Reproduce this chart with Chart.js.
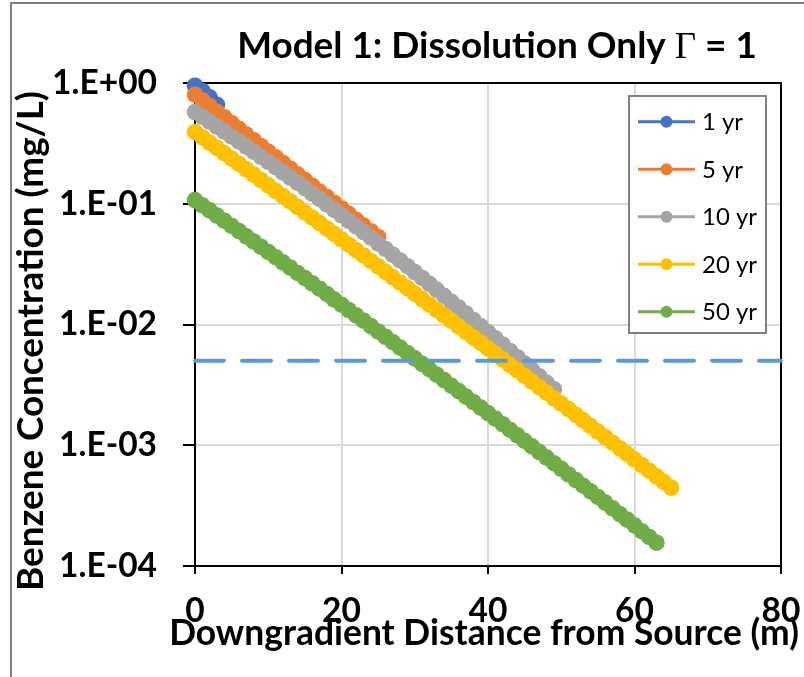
<!DOCTYPE html>
<html><head><meta charset="utf-8">
<script src="https://cdn.jsdelivr.net/npm/chart.js@4.4.0/dist/chart.umd.min.js"></script>
<style>html,body{margin:0;padding:0;background:#fff;} canvas{display:block;}</style>
</head><body><canvas id="c" width="804" height="677"></canvas>
<script>
// ---------------- DATA ----------------
const seriesNames = ['1 yr', '5 yr', '10 yr', '20 yr', '50 yr'];

const dist1yr = [0, 1, 2, 3];
const conc1yr = [0.95, 0.86, 0.76, 0.66];

const dist5yr = [0,1,2,3,4,5,6,7,8,9,10,11,12,13,14,15,16,17,18,19,20,21,22,23,24,25];
const conc5yr = [0.80,0.718,0.644,0.578,0.519,0.465,0.417,0.374,0.336,0.301,0.270,0.243,0.218,0.195,0.175,0.157,0.141,0.126,0.1135,0.102,0.0914,0.082,0.0736,0.066,0.0592,0.0531];

const dist10yr = [0,1,2,3,4,5,6,7,8,9,10,11,12,13,14,15,16,17,18,19,20,21,22,23,24,25,26,27,28,29,30,31,32,33,34,35,36,37,38,39,40,41,42,43,44,45,46,47,48,49];
const conc10yr = [0.575,0.5248,0.4779,0.4352,0.3961,0.3601,0.3273,0.2972,0.2698,0.2447,0.2218,0.2010,0.1819,0.1646,0.1488,0.1344,0.1214,0.1095,0.0988,0.0890,0.0802,0.0722,0.0649,0.0583,0.0524,0.0470,0.0422,0.0378,0.0339,0.0304,0.0272,0.0243,0.0217,0.0194,0.0173,0.0154,0.0138,0.0123,0.0109,0.0097,0.00863,0.00767,0.00681,0.00604,0.00536,0.00475,0.00421,0.00372,0.00329,0.00291];

const dist20yr = [0,1,2,3,4,5,6,7,8,9,10,11,12,13,14,15,16,17,18,19,20,21,22,23,24,25,26,27,28,29,30,31,32,33,34,35,36,37,38,39,40,41,42,43,44,45,46,47,48,49,50,51,52,53,54,55,56,57,58,59,60,61,62,63,64,65];
const conc20yr = [0.3926,0.3548,0.3206,0.2896,0.2617,0.2363,0.2135,0.1928,0.1741,0.1572,0.1419,0.1281,0.1156,0.1044,0.0942,0.0850,0.0767,0.0692,0.0624,0.0563,0.0508,0.0458,0.0413,0.0373,0.0336,0.0303,0.0273,0.0246,0.0222,0.0200,0.01803,0.01625,0.01464,0.01319,0.01188,0.01070,0.00964,0.00868,0.00782,0.00704,0.00634,0.00571,0.00514,0.00462,0.00416,0.00375,0.00337,0.00303,0.00273,0.00245,0.00221,0.00199,0.001786,0.001606,0.001444,0.001299,0.001168,0.001050,0.000943,0.000848,0.000762,0.000685,0.000615,0.000553,0.000497,0.000446];

const dist50yr = [0,1,2,3,4,5,6,7,8,9,10,11,12,13,14,15,16,17,18,19,20,21,22,23,24,25,26,27,28,29,30,31,32,33,34,35,36,37,38,39,40,41,42,43,44,45,46,47,48,49,50,51,52,53,54,55,56,57,58,59,60,61,62,63];
const conc50yr = [0.1072,0.0971,0.0881,0.0798,0.0724,0.0655,0.0594,0.0538,0.0487,0.0441,0.0399,0.0361,0.0327,0.0296,0.0267,0.0242,0.0219,0.0198,0.0179,0.0161,0.01459,0.01318,0.01190,0.01075,0.00970,0.00876,0.00791,0.00713,0.00644,0.00580,0.00524,0.00472,0.00426,0.00384,0.00346,0.00311,0.00281,0.00253,0.00228,0.00205,0.001845,0.00166,0.001494,0.001344,0.001209,0.001088,0.000978,0.000879,0.000790,0.000710,0.000638,0.000573,0.000515,0.000462,0.000415,0.000373,0.000335,0.000300,0.000269,0.000242,0.000217,0.000194,0.000174,0.000156];

const mclValue = 0.005;
const mclDistRange = [0, 80];

const xTickValues = [0, 20, 40, 60, 80];
const yTickValues = [1e-4, 1e-3, 1e-2, 1e-1, 1];
const yTickLabels = ['1.E-04', '1.E-03', '1.E-02', '1.E-01', '1.E+00'];

const chartTitle = ['Model 1: Dissolution Only ', '\u0393', ' = 1'];
const xAxisTitle = 'Downgradient Distance from Source (m)';
const yAxisTitle = 'Benzene Concentration (mg/L)';

// ---------------- STYLE ----------------
const seriesColors = ['#4472c4', '#ed7d31', '#a5a5a5', '#ffc000', '#70ad47'];
const mclColor = '#5b9bd5';
const FONT = 'Lato, "Open Sans", sans-serif';
const GFONT = '"Liberation Serif", "DejaVu Serif", serif';

const mctx = document.createElement('canvas').getContext('2d');
function fitSize(text, weight, family, target) {
  mctx.font = weight + ' 100px ' + family;
  return 100 * target / mctx.measureText(text).width;
}
const tickSize = fitSize('1.E+00', 'bold', FONT, 105);
const xTitleSize = fitSize(xAxisTitle, 'bold', FONT, 630);
const yTitleSize = fitSize(yAxisTitle, 'bold', FONT, 500);
const legendSize = fitSize('10 yr', 'normal', FONT, 55);
const titleSize = (function () {
  let w = 0;
  mctx.font = 'bold 100px ' + FONT; w += mctx.measureText(chartTitle[0]).width + mctx.measureText(chartTitle[2]).width;
  mctx.font = '100px ' + GFONT; w += mctx.measureText(chartTitle[1]).width;
  return 100 * 520 / w;
})();

const pairs = (xs, ys) => xs.map((x, i) => ({x: x, y: ys[i]}));
const seriesDists = [dist1yr, dist5yr, dist10yr, dist20yr, dist50yr];
const seriesConcs = [conc1yr, conc5yr, conc10yr, conc20yr, conc50yr];

const datasets = seriesNames.map((name, i) => ({
  label: name,
  data: pairs(seriesDists[i], seriesConcs[i]),
  showLine: true,
  borderColor: seriesColors[i],
  backgroundColor: seriesColors[i],
  borderWidth: 3,
  pointRadius: 8.3,
  pointHoverRadius: 8.3,
  pointBorderWidth: 0,
  clip: false,
  order: 10 - i
}));
datasets.push({
  label: 'MCL',
  data: mclDistRange.map(x => ({x: x, y: mclValue})),
  showLine: true,
  borderColor: mclColor,
  backgroundColor: mclColor,
  borderWidth: 4,
  borderDash: [29, 18],
  borderCapStyle: 'round',
  pointRadius: 0,
  clip: false,
  order: 0
});

const decor = {
  id: 'decor',
  beforeDraw(chart) {
    const c = chart.ctx;
    c.save(); c.fillStyle = '#fff'; c.fillRect(0, 0, chart.width, chart.height); c.restore();
  },
  beforeDatasetsDraw(chart) {
    const c = chart.ctx, a = chart.chartArea;
    c.save();
    c.strokeStyle = '#000'; c.lineWidth = 2;
    c.beginPath();
    c.moveTo(a.left - 1, a.top); c.lineTo(a.right, a.top); c.lineTo(a.right, a.bottom + 1);
    c.stroke();
    c.restore();
  },
  afterDraw(chart) {
    const c = chart.ctx;
    c.save();
    // outer frame
    c.strokeStyle = '#7f7f7f'; c.lineWidth = 2;
    c.beginPath(); c.moveTo(11, chart.height); c.lineTo(11, 3); c.lineTo(chart.width, 3); c.stroke();
    // chart title (Gamma in a serif face)
    const tFont = 'bold ' + titleSize + 'px ' + FONT, gFont = titleSize + 'px ' + GFONT;
    const fonts = [tFont, gFont, tFont];
    const widths = chartTitle.map((t, i) => { c.font = fonts[i]; return c.measureText(t).width; });
    const total = widths.reduce((s, w) => s + w, 0);
    let x = 497 - total / 2;
    c.fillStyle = '#000'; c.textBaseline = 'alphabetic'; c.textAlign = 'left';
    chartTitle.forEach((t, i) => { c.font = fonts[i]; c.fillText(t, x, 58); x += widths[i]; });
    // axis titles
    c.textAlign = 'center'; c.textBaseline = 'middle';
    c.font = 'bold ' + xTitleSize + 'px ' + FONT;
    c.fillText(xAxisTitle, 484, 634);
    c.save();
    c.translate(31, 341); c.rotate(-Math.PI / 2);
    c.font = 'bold ' + yTitleSize + 'px ' + FONT;
    c.fillText(yAxisTitle, 0, 0);
    c.restore();
    // legend
    const L = 629, T = 96, W = 137, H = 237;
    c.fillStyle = '#fff'; c.fillRect(L, T, W, H);
    c.strokeStyle = '#808080'; c.lineWidth = 2; c.strokeRect(L, T, W, H);
    c.font = legendSize + 'px ' + FONT; c.textBaseline = 'middle'; c.textAlign = 'left';
    seriesNames.forEach((name, i) => {
      const y = 121.7 + 47.5 * i;
      c.strokeStyle = seriesColors[i]; c.lineWidth = 3;
      c.beginPath(); c.moveTo(638, y); c.lineTo(695, y); c.stroke();
      c.fillStyle = seriesColors[i];
      c.beginPath(); c.arc(666.5, y, 6, 0, Math.PI * 2); c.fill();
      c.fillStyle = '#000'; c.fillText(name, 702, y + 1);
    });
    c.restore();
  }
};

new Chart(document.getElementById('c'), {
  type: 'scatter',
  data: {datasets: datasets},
  plugins: [decor],
  options: {
    responsive: false,
    animation: false,
    events: [],
    layout: {autoPadding: false, padding: {left: 0, right: 23, top: 83, bottom: 0}},
    plugins: {legend: {display: false}, title: {display: false}, tooltip: {enabled: false}},
    scales: {
      x: {
        type: 'linear', min: 0, max: 80, position: 'bottom',
        afterBuildTicks: s => { s.ticks = xTickValues.map(v => ({value: v})); },
        ticks: {font: {family: FONT, weight: 'bold', size: tickSize}, color: '#000', padding: 17, maxRotation: 0, autoSkip: false},
        grid: {color: '#d9d9d9', lineWidth: 2, tickColor: '#000', tickLength: 8, tickWidth: 2},
        border: {color: '#000', width: 2},
        title: {display: false, text: xAxisTitle},
        afterFit: s => { s.height = 111; s.paddingLeft = 0; s.paddingRight = 0; }
      },
      y: {
        type: 'logarithmic', min: 1e-4, max: 1, position: 'left',
        afterBuildTicks: s => { s.ticks = yTickValues.map(v => ({value: v})); },
        ticks: {font: {family: FONT, weight: 'bold', size: tickSize}, color: '#000', padding: 26, autoSkip: false,
                callback: (v, i) => yTickLabels[i]},
        grid: {color: '#d9d9d9', lineWidth: 2, tickColor: '#000', tickLength: 12, tickWidth: 2},
        border: {color: '#000', width: 2},
        title: {display: false, text: yAxisTitle},
        afterFit: s => { s.width = 195; s.paddingTop = 0; s.paddingBottom = 0; }
      }
    }
  }
});
</script>
</body></html>
